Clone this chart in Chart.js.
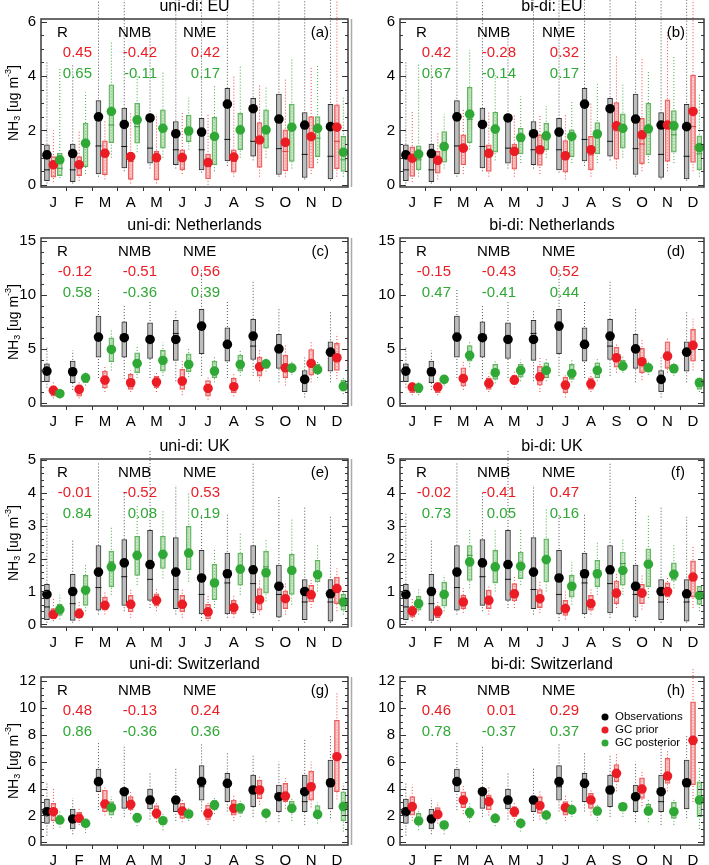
<!DOCTYPE html>
<html>
<head>
<meta charset="utf-8">
<script src="https://cdn.jsdelivr.net/npm/chart.js@4"></script>
<style>
  body { margin: 0; background: #fff; width: 709px; height: 865px; position: relative; overflow: hidden; }
  canvas { position: absolute; }
</style>
</head>
<body>
<script>
const months = ["J", "F", "M", "A", "M", "J", "J", "A", "S", "O", "N", "D"];

// each row: [min, q1, median, q3, max] per month; *Mean = dot value
const obsEU = [[0.05,0.15,0.55,1.47,4.5],[0.05,0.12,0.55,1.5,4.4],[0.3,0.4,1.43,3.1,8],[0.5,0.62,1.41,2.82,8],[0.6,0.8,1.35,2.52,5.5],[0.6,0.74,1.29,2.33,8],[0.45,0.55,1.29,2.45,8],[0.7,0.88,1.67,3.55,8],[0.9,1.05,1.6,3.18,8],[0.3,0.38,1.33,3.34,8],[0.2,0.27,1.12,2.66,8],[0.15,0.22,1.05,2.96,8]];
const obsEUmean = [1.1,1.15,2.5,2.22,2.46,1.88,1.94,2.97,2.8,2.42,2.2,2.14];
const priorEUuni = [[0.1,0.28,0.6,1.04,2.0],[0.15,0.34,0.67,1.04,2.0],[0.2,0.37,1.1,1.62,2.4],[0.05,0.2,0.86,1.13,2.7],[0.05,0.18,0.86,1.23,2.6],[0.4,0.55,0.86,1.29,2.7],[0.0,0.22,0.67,1.13,2.6],[0.3,0.47,0.86,1.29,4.0],[0.3,0.64,1.6,2.29,3.7],[0.3,0.51,1.23,2.02,3.9],[0.4,0.61,1.72,2.51,4.3],[0.3,0.59,1.6,2.94,8]];
const priorEUuniMean = [0.74,0.74,1.16,1.04,1.0,1.0,0.82,1.02,1.65,1.56,1.77,2.12];
const postEUuni = [[0.25,0.34,0.61,1.16,4.3],[0.4,0.67,1.45,2.27,3.4],[1.0,1.55,2.2,3.68,5.3],[1.2,1.53,2.14,3.0,4.0],[1.0,1.35,2.08,2.76,4.2],[1.3,1.59,2.0,2.57,3.2],[0.5,0.74,1.7,2.48,3.7],[1.0,1.29,2.0,2.63,4.4],[1.0,1.35,2.02,2.76,3.6],[0.6,0.86,2.0,2.97,4.65],[0.8,1.04,1.72,2.51,4.4],[0.3,0.49,0.92,1.78,3.2]];
const postEUuniMean = [0.92,1.53,2.7,2.39,2.08,1.98,1.78,2.02,2.02,2.12,2.08,1.2];
const priorEUbi = [[0.1,0.31,0.9,1.4,2.7],[0.2,0.43,0.85,1.23,1.9],[0.4,0.74,1.3,1.84,2.76],[0.3,0.49,1.1,1.47,2.7],[0.3,0.58,1.2,1.5,2.6],[0.4,0.71,1.3,1.84,2.6],[0.2,0.47,1.0,1.63,2.6],[0.3,0.55,1.1,1.78,3.0],[0.6,0.94,1.99,3.03,4.78],[0.5,0.77,1.5,2.45,4.7],[0.5,0.86,2.24,3.13,5.6],[0.5,0.82,2.14,4.04,8]];
const priorEUbiMean = [0.98,0.9,1.35,1.16,1.23,1.29,1.07,1.29,2.17,1.84,2.2,2.7];
const postEUbi = [[0.3,0.55,0.92,1.43,4.47],[0.6,0.83,1.4,1.96,2.6],[1.3,1.55,2.4,3.59,4.96],[0.9,1.2,2.02,2.67,4.1],[0.8,1.14,1.6,2.08,3.25],[1.0,1.29,1.8,2.27,2.9],[0.8,1.04,1.7,2.02,3.06],[0.8,1.14,1.8,2.29,3.7],[1.0,1.35,2.0,2.61,3.7],[0.8,1.1,2.0,3.0,4.2],[0.8,1.2,1.84,2.73,4.7],[0.3,0.55,1.14,1.8,3.37]];
const postEUbiMean = [1.13,1.41,2.6,2.05,1.74,1.8,1.78,1.87,2.08,2.06,2.17,1.37];

const obsNL = [[1.4,1.95,2.8,3.62,5.26],[1.2,1.86,2.9,3.87,4.86],[2.3,4.24,6.04,8.05,10.5],[2.2,4.24,5.8,7.52,9.13],[2.3,4.12,5.8,7.43,9.44],[2.0,3.93,6.44,7.65,8.67],[2.5,4.55,6.8,8.67,12.4],[2.3,3.87,5.57,6.97,9.5],[2.5,4.02,5.26,7.74,11.3],[1.9,3.19,4.86,6.35,8.8],[0.5,1.02,2.17,3.0,4.2],[1.9,2.94,4.9,5.67,8.5]];
const obsNLmean = [2.94,2.88,6.1,6.04,5.88,5.88,7.12,5.42,6.19,5.0,2.17,4.7];
const priorNLuni = [[0.4,0.62,1.1,1.55,1.9],[0.4,0.62,1.2,1.64,2.0],[1.0,1.39,2.0,2.94,3.5],[1.0,1.24,1.8,2.63,3.0],[1.0,1.39,1.9,2.48,2.8],[0.7,1.24,1.9,3.1,4.0],[0.3,0.62,1.3,2.07,2.4],[0.6,0.93,1.4,2.26,2.8],[2.0,2.48,3.3,4.24,5.0],[1.6,2.32,3.3,4.43,5.5],[1.9,2.57,3.6,4.95,5.8],[2.2,3.0,4.1,5.51,6.4]];
const priorNLuniMean = [1.15,1.24,2.1,1.86,1.92,2.01,1.33,1.49,3.34,3.25,3.65,4.18];
const postNLuni = [[0.4,0.53,0.8,1.08,1.3],[1.6,1.86,2.3,2.63,2.9],[3.0,3.81,4.7,6.04,6.8],[2.3,2.79,3.6,4.64,5.3],[2.5,2.94,3.9,4.86,5.6],[2.4,2.88,3.5,4.55,5.1],[1.9,2.32,2.9,3.87,4.4],[2.5,2.94,3.5,4.43,4.9],[2.9,3.19,3.6,3.93,4.3],[2.6,2.94,3.2,3.62,3.9],[2.3,2.69,3.0,3.56,3.9],[0.8,1.08,1.5,2.1,2.3]];
const postNLuniMean = [0.84,2.32,4.95,3.65,3.93,3.56,2.94,3.56,3.62,3.22,3.07,1.52];
const priorNLbi = [[0.7,0.93,1.4,1.76,2.1],[0.7,0.93,1.4,1.86,2.0],[1.2,1.55,2.2,3.25,3.8],[1.0,1.24,1.75,2.32,2.7],[1.4,1.7,2.05,2.57,2.9],[1.0,1.64,2.4,3.4,4.3],[0.5,0.93,1.6,2.38,2.7],[1.0,1.24,1.7,2.32,2.7],[2.8,3.31,4.2,5.17,5.5],[2.1,2.79,3.8,5.05,5.8],[2.8,3.19,4.4,5.67,6.1],[3.0,3.87,5.3,6.81,7.8]];
const priorNLbiMean = [1.46,1.46,2.26,1.8,2.1,2.41,1.64,1.76,4.18,3.81,4.33,5.33];
const postNLbi = [[0.7,0.93,1.35,1.7,1.9],[1.6,1.86,2.15,2.48,2.7],[3.3,3.87,4.3,5.3,5.8],[1.8,2.17,2.8,3.56,4.0],[2.0,2.38,3.0,3.56,4.0],[2.0,2.32,3.0,3.72,4.1],[1.9,2.17,2.7,3.56,4.0],[2.0,2.32,3.0,3.72,4.2],[2.8,3.1,3.4,3.93,4.3],[2.6,2.94,3.2,3.62,3.9],[2.5,2.79,3.1,3.56,3.9],[1.0,1.24,1.8,2.32,2.4]];
const postNLbiMean = [1.39,2.17,4.4,2.79,3.0,3.0,2.72,3.0,3.4,3.25,3.16,1.86];

const obsUK = [[0.05,0.14,0.53,1.22,3.42],[0.05,0.12,0.63,1.52,2.6],[0.3,0.43,1.12,2.4,4.9],[0.4,0.58,1.45,2.58,4.0],[0.5,0.73,1.37,2.86,5.3],[0.3,0.48,1.06,2.64,4.23],[0.1,0.32,0.91,2.25,3.37],[0.2,0.32,1.26,2.17,3.37],[0.2,0.35,1.24,2.4,4.94],[0.1,0.22,0.91,1.8,3.88],[0.05,0.14,0.68,1.36,3.57],[0.05,0.1,0.68,1.36,3.27]];
const obsUKmean = [0.91,1.0,1.59,1.87,1.82,1.59,1.41,1.54,1.66,1.16,1.0,0.93];
const priorUKuni = [[0.1,0.17,0.3,0.48,0.8],[0.1,0.2,0.32,0.48,0.7],[0.3,0.43,0.58,0.83,1.0],[0.2,0.38,0.6,0.88,1.1],[0.4,0.55,0.72,0.93,1.1],[0.2,0.38,0.6,0.88,1.1],[0.1,0.17,0.38,0.61,0.9],[0.2,0.32,0.5,0.73,0.9],[0.3,0.43,0.75,1.09,1.4],[0.3,0.48,0.78,1.02,1.3],[0.5,0.68,0.9,1.19,1.4],[0.4,0.63,1.0,1.44,1.7]];
const priorUKuniMean = [0.3,0.32,0.58,0.61,0.73,0.61,0.38,0.51,0.75,0.78,0.9,1.09];
const postUKuni = [[0.15,0.27,0.45,0.61,0.9],[0.4,0.58,1.04,1.49,1.8],[0.9,1.14,1.9,2.23,3.0],[1.2,1.49,2.1,2.68,3.6],[1.4,1.7,2.1,2.68,3.5],[1.3,1.66,2.1,2.98,4.0],[0.5,0.75,1.3,1.83,2.3],[0.9,1.19,1.7,2.17,2.8],[0.7,0.95,1.75,2.23,2.6],[0.6,0.91,1.64,2.13,3.2],[1.0,1.29,1.5,1.95,2.4],[0.3,0.43,0.65,0.91,1.0]];
const postUKuniMean = [0.45,1.04,1.75,2.1,2.13,2.17,1.26,1.68,1.57,1.64,1.51,0.68];
const priorUKbi = [[0.1,0.22,0.4,0.55,0.8],[0.1,0.2,0.38,0.55,0.7],[0.35,0.48,0.68,0.88,1.1],[0.3,0.48,0.73,1.04,1.2],[0.5,0.71,0.93,1.24,1.45],[0.35,0.51,0.78,1.06,1.3],[0.15,0.27,0.48,0.73,1.0],[0.3,0.43,0.63,0.88,1.1],[0.5,0.63,0.95,1.32,1.6],[0.45,0.63,0.95,1.22,1.5],[0.65,0.83,1.0,1.26,1.45],[0.5,0.83,1.4,1.93,2.4]];
const priorUKbiMean = [0.4,0.38,0.68,0.73,0.93,0.78,0.48,0.63,0.95,0.95,1.0,1.44];
const postUKbi = [[0.3,0.43,0.63,0.85,1.1],[0.4,0.55,0.91,1.29,1.5],[1.1,1.34,2.1,2.4,2.9],[1.0,1.26,1.75,2.25,2.9],[1.2,1.39,1.75,2.2,2.9],[1.0,1.29,1.95,2.6,3.5],[0.6,0.83,1.15,1.49,1.9],[0.9,1.14,1.55,1.95,2.5],[0.9,1.19,1.85,2.2,2.6],[0.8,1.14,1.85,2.3,3.3],[1.1,1.34,1.5,1.87,2.4],[0.4,0.61,0.85,1.16,1.2]];
const postUKbiMean = [0.63,0.91,1.9,1.75,1.77,1.97,1.16,1.54,1.64,1.83,1.52,0.88];

const obsCH = [[0.5,1.41,2.2,3.23,4.5],[0.6,0.99,1.79,2.48,3.3],[2.4,3.77,4.4,5.46,7.4],[1.9,2.53,3.65,4.02,7.2],[1.7,2.48,3.03,3.97,5.26],[1.6,2.28,3.08,3.4,5.5],[2.3,3.15,4.14,5.71,7.37],[2.3,3.03,4.3,5.14,6.75],[1.9,2.66,3.65,5.01,6.6],[1.5,2.28,3.28,4.27,6.0],[1.3,2.28,3.03,5.01,7.74],[1.8,2.48,4.2,6.13,8.0]];
const obsCHmean = [2.28,1.74,4.52,3.77,3.15,3.15,4.52,4.39,3.9,3.4,3.77,4.44];
const priorCHuni = [[1.0,1.59,2.3,2.9,4.0],[1.3,1.59,1.8,2.23,2.5],[2.0,2.28,2.8,3.9,4.2],[2.1,2.41,2.8,3.4,3.8],[1.5,1.79,2.2,2.73,3.0],[1.5,1.79,2.3,2.9,3.2],[1.3,1.66,2.2,2.78,3.0],[1.6,2.03,2.5,3.15,3.5],[2.8,3.23,3.9,4.64,5.0],[2.5,3.03,3.5,4.39,4.8],[2.6,3.15,4.1,5.31,6.0],[3.2,3.77,6.3,9.1,11.1]];
const priorCHuniMean = [2.28,1.79,2.85,2.83,2.16,2.33,2.16,2.53,3.9,3.45,4.14,6.38];
const postCHuni = [[1.1,1.41,1.65,1.99,2.3],[0.7,1.17,1.4,1.54,1.7],[1.8,2.03,2.6,3.03,3.4],[1.2,1.49,1.8,2.03,2.3],[0.9,1.29,1.6,1.84,2.1],[1.6,1.84,2.1,2.41,2.6],[2.1,2.41,2.8,3.15,3.4],[1.9,2.16,2.6,2.83,3.2],[1.5,1.99,2.15,2.33,2.5],[1.6,2.28,2.5,3.08,3.3],[1.4,1.79,2.1,2.73,3.0],[0.8,1.59,2.6,3.77,4.4]];
const postCHuniMean = [1.66,1.41,2.58,1.84,1.61,2.11,2.78,2.58,2.16,2.53,2.08,2.66];
const priorCHbi = [[1.6,2.03,2.6,3.4,4.3],[1.4,1.79,2.1,2.58,3.0],[2.1,2.58,3.2,3.77,4.2],[2.0,2.41,3.0,3.52,4.1],[1.5,1.91,2.3,2.66,3.0],[1.7,2.16,2.7,3.4,3.8],[1.6,2.03,2.6,3.03,3.5],[2.0,2.53,3.1,3.65,4.0],[3.8,4.52,5.1,5.8,6.6],[2.7,3.28,4.0,4.8,5.4],[3.8,4.39,4.9,6.25,6.9],[3.0,4.27,7.3,10.47,12.9]];
const priorCHbiMean = [2.66,2.08,3.15,3.03,2.28,2.73,2.58,3.15,5.14,3.97,4.94,7.6];
const postCHbi = [[0.9,1.29,1.6,2.16,2.5],[0.6,1.09,1.3,1.49,1.7],[1.5,1.84,2.2,2.53,2.9],[1.2,1.49,1.8,1.99,2.3],[0.8,1.17,1.4,1.66,1.9],[1.4,1.79,2.0,2.28,2.4],[1.9,2.16,2.4,2.78,3.2],[1.6,2.03,2.3,2.58,2.9],[1.9,2.41,2.6,2.83,3.0],[1.5,2.03,2.3,2.83,3.2],[1.3,1.79,2.3,2.98,3.3],[1.0,1.9,3.0,4.5,5.6]];
const postCHbiMean = [1.59,1.29,2.23,1.79,1.41,2.03,2.41,2.33,2.65,2.33,2.28,3.15];

// R, NMB, NME: first row prior (red), second row posterior (green)
const statsA = [["0.45", "-0.42", "0.42"], ["0.65", "-0.11", "0.17"]];
const statsB = [["0.42", "-0.28", "0.32"], ["0.67", "-0.14", "0.17"]];
const statsC = [["-0.12", "-0.51", "0.56"], ["0.58", "-0.36", "0.39"]];
const statsD = [["-0.15", "-0.43", "0.52"], ["0.47", "-0.41", "0.44"]];
const statsE = [["-0.01", "-0.52", "0.53"], ["0.84", "0.08", "0.19"]];
const statsF = [["-0.02", "-0.41", "0.47"], ["0.73", "0.05", "0.16"]];
const statsG = [["0.48", "-0.13", "0.24"], ["0.86", "-0.36", "0.36"]];
const statsH = [["0.46", "0.01", "0.29"], ["0.78", "-0.37", "0.37"]];

const legendLabels = ["Observations", "GC prior", "GC posterior"];

const panels = [
  { tag: "(a)", title: "uni-di: EU", obs: obsEU, obsM: obsEUmean, prior: priorEUuni, priorM: priorEUuniMean, post: postEUuni, postM: postEUuniMean, yMin: -0.08, yMax: 6.1, yTicks: [0, 2, 4, 6], minor: 0.5, stats: statsA },
  { tag: "(b)", title: "bi-di: EU", obs: obsEU, obsM: obsEUmean, prior: priorEUbi, priorM: priorEUbiMean, post: postEUbi, postM: postEUbiMean, yMin: -0.08, yMax: 6.1, yTicks: [0, 2, 4, 6], minor: 0.5, stats: statsB },
  { tag: "(c)", title: "uni-di: Netherlands", obs: obsNL, obsM: obsNLmean, prior: priorNLuni, priorM: priorNLuniMean, post: postNLuni, postM: postNLuniMean, yMin: -0.3, yMax: 15.3, yTicks: [0, 5, 10, 15], minor: 1, stats: statsC },
  { tag: "(d)", title: "bi-di: Netherlands", obs: obsNL, obsM: obsNLmean, prior: priorNLbi, priorM: priorNLbiMean, post: postNLbi, postM: postNLbiMean, yMin: -0.3, yMax: 15.3, yTicks: [0, 5, 10, 15], minor: 1, stats: statsD },
  { tag: "(e)", title: "uni-di: UK", obs: obsUK, obsM: obsUKmean, prior: priorUKuni, priorM: priorUKuniMean, post: postUKuni, postM: postUKuniMean, yMin: -0.08, yMax: 5.03, yTicks: [0, 1, 2, 3, 4, 5], minor: 0.2, stats: statsE },
  { tag: "(f)", title: "bi-di: UK", obs: obsUK, obsM: obsUKmean, prior: priorUKbi, priorM: priorUKbiMean, post: postUKbi, postM: postUKbiMean, yMin: -0.08, yMax: 5.03, yTicks: [0, 1, 2, 3, 4, 5], minor: 0.2, stats: statsF },
  { tag: "(g)", title: "uni-di: Switzerland", obs: obsCH, obsM: obsCHmean, prior: priorCHuni, priorM: priorCHuniMean, post: postCHuni, postM: postCHuniMean, yMin: -0.2, yMax: 12.32, yTicks: [0, 2, 4, 6, 8, 10, 12], minor: 0.5, stats: statsG },
  { tag: "(h)", title: "bi-di: Switzerland", obs: obsCH, obsM: obsCHmean, prior: priorCHbi, priorM: priorCHbiMean, post: postCHbi, postM: postCHbiMean, yMin: -0.2, yMax: 12.32, yTicks: [0, 2, 4, 6, 8, 10, 12], minor: 0.5, stats: statsH, legend: true }
];

const FONT = '"Liberation Sans", Arial, Helvetica, sans-serif';
const RED = "#ec1c24";
const GREEN = "#2fa836";
const look = {
  obs:   { whisk: "#555", fill: "#bdbdbd", edge: "#333", med: "#111", dot: "#000", z: 3 },
  prior: { whisk: "#f04040", fill: "rgba(242,170,170,0.55)", edge: "#ee5a5a", med: "#e03a3a", dot: RED, z: 2 },
  post:  { whisk: "#3aaa3a", fill: "rgba(170,215,165,0.6)", edge: "#5cb35c", med: "#3f9a3f", dot: GREEN, z: 1 }
};

Chart.defaults.font.family = FONT;
Chart.defaults.color = "#000";

const cols = [{ left: 0, width: 354, axisW: 41, padR: 6 }, { left: 354, width: 355, axisW: 46, padR: 5 }];
const rowTops = [-1, 218, 439, 657];
const CH = 218;

function seriesSets(box, mean, off, s) {
  const whisk = [];
  box.forEach((b, i) => {
    whisk.push({ x: i + off, y: b[0] }, { x: i + off, y: b[4] }, { x: i + off, y: null });
  });
  return [
    { type: "line", data: whisk, showLine: true, spanGaps: false, borderColor: s.whisk, borderWidth: 1,
      borderDash: [1, 2], pointRadius: 0, clip: false, order: 20 },
    { type: "bar", data: box.map((b, i) => ({ x: i + off, y: [b[1], b[3]] })), backgroundColor: s.fill,
      borderColor: s.edge, borderWidth: 1, borderSkipped: false, grouped: false,
      barThickness: 5, maxBarThickness: 5, order: 15 },
    { type: "scatter", data: box.map((b, i) => ({ x: i + off, y: b[2] })), pointStyle: "line",
      pointRadius: 3, pointBorderColor: s.med, pointBorderWidth: 1, order: 10 },
    { type: "scatter", data: mean.map((m, i) => ({ x: i + off, y: m })), pointRadius: 4.8,
      pointBackgroundColor: s.dot, pointBorderWidth: 0, order: s.z }
  ];
}

function decor(p, col) {
  return {
    id: "decor",
    afterDraw(chart) {
      const ctx = chart.ctx, a = chart.chartArea, ys = chart.scales.y;
      ctx.save();
      // inward ticks on both sides
      ctx.strokeStyle = "#333";
      ctx.lineWidth = 1;
      const n = Math.floor(p.yMax / p.minor + 1e-6);
      for (let k = 0; k <= n; k++) {
        const v = k * p.minor;
        const major = p.yTicks.some(t => Math.abs(t - v) < 1e-6);
        const len = major ? 6 : 3;
        const y = Math.round(ys.getPixelForValue(v)) + 0.5;
        ctx.beginPath();
        ctx.moveTo(a.left, y); ctx.lineTo(a.left + len, y);
        ctx.moveTo(a.right, y); ctx.lineTo(a.right - len, y);
        ctx.stroke();
      }
      // frame
      ctx.strokeStyle = "#3a3a3a";
      ctx.lineWidth = 1.5;
      ctx.strokeRect(a.left, a.top, a.right - a.left, a.bottom - a.top);
      if (col === 0) {
        ctx.strokeStyle = "#aaa";
        ctx.beginPath();
        ctx.moveTo(a.right + 3.5, a.top); ctx.lineTo(a.right + 3.5, a.bottom);
        ctx.stroke();
      }
      // title
      ctx.fillStyle = "#000";
      ctx.textBaseline = "middle";
      ctx.textAlign = "center";
      ctx.font = "16px " + FONT;
      ctx.fillText(p.title, (a.left + a.right) / 2, a.top - 12);
      // stats block
      ctx.font = "15px " + FONT;
      ctx.textAlign = "left";
      ctx.fillText("R", a.left + 16, a.top + 14);
      ctx.fillText("NMB", a.left + 77, a.top + 14);
      ctx.fillText("NME", a.left + 142, a.top + 14);
      ctx.textAlign = "right";
      ctx.fillText(p.tag, a.right - 19, a.top + 14);
      const rights = [51, 116, 179];
      [RED, GREEN].forEach((c, r) => {
        ctx.fillStyle = c;
        p.stats[r].forEach((t, j) => ctx.fillText(t, a.left + rights[j], a.top + 34 + r * 21));
      });
      // y axis title with sub/superscript
      if (col === 0) {
        ctx.fillStyle = "#000";
        ctx.translate(14, (a.top + a.bottom) / 2);
        ctx.rotate(-Math.PI / 2);
        const parts = [["NH", 14, 0], ["3", 9, 4], [" [ug m", 14, 0], ["-3", 9, -5], ["]", 14, 0]];
        let w = 0;
        parts.forEach(q => { ctx.font = q[1] + "px " + FONT; w += ctx.measureText(q[0]).width; });
        let x = -w / 2;
        ctx.textAlign = "left";
        parts.forEach(q => {
          ctx.font = q[1] + "px " + FONT;
          ctx.fillText(q[0], x, q[2]);
          x += ctx.measureText(q[0]).width;
        });
        ctx.setTransform(1, 0, 0, 1, 0, 0);
      }
      // legend
      if (p.legend) {
        ctx.font = "11.5px " + FONT;
        ctx.textAlign = "left";
        [look.obs.dot, RED, GREEN].forEach((c, i) => {
          const y = a.top + 40 + i * 13;
          ctx.fillStyle = c;
          ctx.beginPath();
          ctx.arc(a.left + 205, y, 3.5, 0, Math.PI * 2);
          ctx.fill();
          ctx.fillStyle = "#000";
          ctx.fillText(legendLabels[i], a.left + 215, y);
        });
      }
      ctx.restore();
    }
  };
}

panels.forEach((p, idx) => {
  const col = idx % 2, row = Math.floor(idx / 2);
  const c = cols[col];
  const cv = document.createElement("canvas");
  cv.width = c.width; cv.height = CH;
  cv.style.left = c.left + "px"; cv.style.top = rowTops[row] + "px";
  cv.style.width = c.width + "px"; cv.style.height = CH + "px";
  document.body.appendChild(cv);

  const datasets = [
    ...seriesSets(p.obs, p.obsM, -0.25, look.obs),
    ...seriesSets(p.prior, p.priorM, 0, look.prior),
    ...seriesSets(p.post, p.postM, 0.25, look.post)
  ];

  new Chart(cv, {
    type: "scatter",
    data: { datasets },
    options: {
      responsive: false,
      animation: false,
      events: [],
      layout: { padding: { top: 20, right: c.padR, left: 0, bottom: 0 } },
      plugins: { legend: { display: false }, tooltip: { enabled: false } },
      scales: {
        x: {
          type: "linear", min: -0.48, max: 11.43, offset: false,
          afterBuildTicks: s => { s.ticks = months.map((m, i) => ({ value: i })); },
          afterFit: s => { s.height = 30; },
          ticks: { callback: v => months[Math.round(v)], autoSkip: false, maxRotation: 0,
                   font: { size: 15 }, padding: 3, color: "#000" },
          grid: { drawOnChartArea: false, drawTicks: true, tickLength: 4, color: "#333" },
          border: { display: false }
        },
        y: {
          type: "linear", min: p.yMin, max: p.yMax,
          afterBuildTicks: s => { s.ticks = p.yTicks.map(v => ({ value: v })); },
          afterFit: s => { s.width = c.axisW; },
          ticks: { font: { size: 15 }, padding: 5, color: "#000" },
          grid: { display: false, drawTicks: false },
          border: { display: false }
        }
      }
    },
    plugins: [decor(p, col)]
  });
});
</script>
</body>
</html>
